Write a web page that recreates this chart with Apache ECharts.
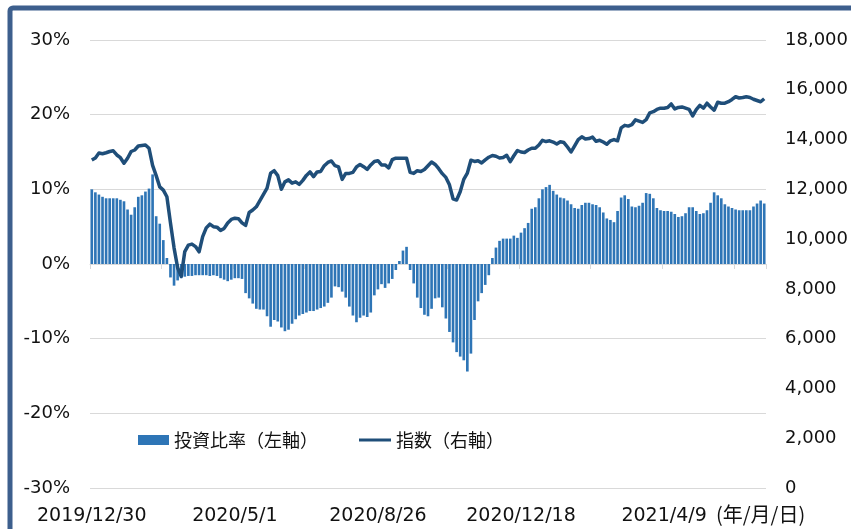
<!DOCTYPE html>
<html>
<head>
<meta charset="utf-8">
<script src="https://cdn.jsdelivr.net/npm/echarts@6/dist/echarts.min.js"></script>
<style>
html,body{margin:0;padding:0;background:#fff;}
#chart{width:851px;height:529px;}
</style>
</head>
<body>
<div id="chart"></div>
<script>
const categories = [
'2019/12/30','2020/1/7','2020/1/9','2020/1/14','2020/1/16','2020/1/20','2020/1/22','2020/1/24','2020/1/28','2020/1/30',
'2020/2/3','2020/2/5','2020/2/7','2020/2/12','2020/2/14','2020/2/18','2020/2/20','2020/2/25','2020/2/27','2020/3/2',
'2020/3/4','2020/3/6','2020/3/10','2020/3/12','2020/3/16','2020/3/18','2020/3/23','2020/3/25','2020/3/27','2020/3/31',
'2020/4/2','2020/4/6','2020/4/8','2020/4/10','2020/4/14','2020/4/16','2020/4/20','2020/4/22','2020/4/24','2020/4/28',
'2020/5/1','2020/5/7','2020/5/11','2020/5/13','2020/5/15','2020/5/18','2020/5/20','2020/5/22','2020/5/26','2020/5/28',
'2020/6/1','2020/6/3','2020/6/5','2020/6/9','2020/6/11','2020/6/15','2020/6/17','2020/6/19','2020/6/23','2020/6/25',
'2020/6/29','2020/7/1','2020/7/3','2020/7/7','2020/7/9','2020/7/13','2020/7/15','2020/7/17','2020/7/21','2020/7/27',
'2020/7/29','2020/7/31','2020/8/4','2020/8/6','2020/8/11','2020/8/13','2020/8/17','2020/8/19','2020/8/21','2020/8/25',
'2020/8/26','2020/8/28','2020/8/31','2020/9/2','2020/9/4','2020/9/8','2020/9/10','2020/9/14','2020/9/16','2020/9/18',
'2020/9/24','2020/9/28','2020/9/30','2020/10/2','2020/10/6','2020/10/8','2020/10/12','2020/10/14','2020/10/16','2020/10/20',
'2020/10/22','2020/10/26','2020/10/28','2020/10/30','2020/11/4','2020/11/6','2020/11/10','2020/11/12','2020/11/16','2020/11/18',
'2020/11/20','2020/11/25','2020/11/27','2020/12/1','2020/12/3','2020/12/7','2020/12/9','2020/12/11','2020/12/15','2020/12/17',
'2020/12/18','2020/12/21','2020/12/23','2020/12/25','2020/12/29','2021/1/4','2021/1/6','2021/1/8','2021/1/13','2021/1/15',
'2021/1/19','2021/1/21','2021/1/25','2021/1/27','2021/1/29','2021/2/2','2021/2/4','2021/2/8','2021/2/10','2021/2/15',
'2021/2/17','2021/2/19','2021/2/24','2021/2/26','2021/3/2','2021/3/4','2021/3/8','2021/3/10','2021/3/12','2021/3/16',
'2021/3/18','2021/3/22','2021/3/24','2021/3/26','2021/3/30','2021/4/1','2021/4/5','2021/4/6','2021/4/7','2021/4/8',
'2021/4/9','2021/4/13','2021/4/15','2021/4/19','2021/4/21','2021/4/23','2021/4/27','2021/4/30','2021/5/6','2021/5/10',
'2021/5/12','2021/5/14','2021/5/18','2021/5/20','2021/5/24','2021/5/26','2021/5/28','2021/6/1','2021/6/3','2021/6/7',
'2021/6/9','2021/6/11','2021/6/15','2021/6/17','2021/6/21','2021/6/23','2021/6/25','2021/6/29','2021/6/30'
];

// 投資比率（%、左軸）
const investRatio = [
10.0, 9.6, 9.3, 9.0, 8.8, 8.8, 8.8, 8.8, 8.6, 8.4,
7.3, 6.6, 7.6, 9.0, 9.2, 9.7, 10.1, 12.0, 6.4, 5.4,
3.2, 0.8, -1.8, -2.9, -2.2, -1.9, -1.7, -1.6, -1.6, -1.5,
-1.5, -1.5, -1.5, -1.6, -1.5, -1.6, -1.9, -2.1, -2.3, -2.1,
-1.9, -1.9, -2.0, -3.9, -4.6, -5.3, -6.0, -6.1, -6.1, -7.0,
-8.4, -7.5, -7.7, -8.5, -9.0, -8.8, -8.0, -7.4, -6.9, -6.7,
-6.5, -6.3, -6.3, -6.1, -5.9, -5.7, -5.2, -4.5, -3.0, -3.1,
-3.7, -4.5, -5.7, -6.9, -7.8, -7.2, -6.9, -7.1, -6.5, -4.2,
-3.4, -2.7, -3.2, -2.6, -2.0, -0.8, 0.4, 1.8, 2.3, -0.8,
-2.6, -4.5, -5.9, -6.8, -7.0, -6.0, -4.6, -4.5, -5.8, -7.3,
-9.1, -10.5, -11.8, -12.4, -12.9, -14.4, -12.0, -7.5, -5.0, -3.9,
-2.8, -1.5, 0.8, 2.2, 3.1, 3.4, 3.4, 3.4, 3.8, 3.5,
4.2, 4.8, 5.5, 7.4, 7.6, 8.8, 10.0, 10.3, 10.6, 9.8,
9.3, 8.9, 8.8, 8.5, 8.0, 7.5, 7.4, 7.9, 8.2, 8.2,
8.0, 7.9, 7.6, 6.9, 6.1, 5.9, 5.6, 7.1, 8.9, 9.2,
8.7, 7.7, 7.6, 7.8, 8.2, 9.5, 9.4, 8.8, 7.5, 7.2,
7.1, 7.1, 7.0, 6.7, 6.3, 6.4, 6.8, 7.6, 7.6, 7.1,
6.7, 6.8, 7.2, 8.2, 9.6, 9.2, 8.8, 8.0, 7.7, 7.5,
7.3, 7.2, 7.2, 7.2, 7.2, 7.7, 8.1, 8.5, 8.1
];

// 指数（右軸）
const indexValues = [
13180, 13260, 13460, 13430, 13470, 13520, 13550, 13380, 13270, 13050,
13250, 13520, 13580, 13740, 13760, 13780, 13650, 12960, 12550, 12100,
11970, 11700, 10650, 9650, 8850, 8500, 9500, 9760, 9800, 9700,
9490, 10100, 10450, 10600, 10500, 10480, 10350, 10430, 10650, 10790,
10840, 10820, 10650, 10550, 11070, 11170, 11300, 11550, 11800, 12050,
12650, 12750, 12550, 12000, 12300, 12380, 12250, 12300, 12200, 12360,
12560, 12700, 12510, 12700, 12720, 12950, 13080, 13140, 12950, 12900,
12400, 12640, 12640, 12680, 12900, 13000, 12910, 12800, 12980, 13120,
13150, 12980, 12980, 12860, 13190, 13250, 13250, 13250, 13250, 12680,
12640, 12750, 12720, 12800, 12950, 13100, 13000, 12830, 12630, 12480,
12180, 11620, 11570, 11900, 12400, 12650, 13170, 13120, 13150, 13060,
13180, 13290, 13360, 13330, 13260, 13280, 13370, 13110, 13350, 13560,
13500, 13480, 13580, 13650, 13650, 13780, 13970, 13920, 13950, 13900,
13820, 13910, 13880, 13700, 13500, 13750, 14000, 14110, 14020, 14040,
14100, 13930, 13970, 13900, 13810, 13950, 14000, 13950, 14470, 14570,
14540, 14600, 14790, 14740, 14690, 14800, 15070, 15120, 15210, 15260,
15260, 15290, 15430, 15230, 15290, 15310, 15260, 15210, 14950, 15200,
15370, 15260, 15460, 15310, 15180, 15500, 15460, 15460, 15520, 15610,
15720, 15670, 15690, 15720, 15690, 15620, 15570, 15520, 15640
];

const seriesNames = ['投資比率（左軸）', '指数（右軸）'];
const dateUnitLabel = '(年/月/日)';

const chart = echarts.init(document.getElementById('chart'), null, {renderer: 'canvas'});
const axisFont = 'DejaVu Sans';
const cjkFont = '"Noto Sans CJK JP", "Noto Sans CJK SC", sans-serif';
const legendText = {fontFamily: cjkFont, fontSize: 18, color: '#111'};

chart.setOption({
  animation: false,
  backgroundColor: '#ffffff',
  grid: {left: 90, right: 85, top: 40, bottom: 41, containLabel: false},
  legend: [
    {
      left: 133, top: 426, itemWidth: 31, itemHeight: 10,
      textStyle: legendText,
      data: [{name: seriesNames[0], icon: 'rect'}]
    },
    {
      left: 354, top: 426, itemWidth: 32, itemHeight: 3,
      textStyle: legendText,
      data: [{name: seriesNames[1], icon: 'rect', itemStyle: {color: '#1f4e79'}}]
    }
  ],
  xAxis: [
    {
      type: 'category', data: categories, position: 'bottom',
      axisLine: {show: false, onZero: false},
      axisTick: {show: false},
      splitLine: {show: false},
      axisLabel: {interval: 39, margin: 19, fontFamily: axisFont, fontSize: 19, color: '#111'}
    },
    {
      type: 'category', data: categories, position: 'bottom',
      axisLine: {show: true, onZero: true, onZeroAxisIndex: 0, lineStyle: {color: '#d9d9d9', width: 1}},
      axisTick: {show: true, interval: 19, length: 5, lineStyle: {color: '#d9d9d9'}},
      axisLabel: {show: false},
      splitLine: {show: false}
    }
  ],
  yAxis: [
    {
      type: 'value', min: -30, max: 30, interval: 10,
      axisLine: {show: false}, axisTick: {show: false},
      splitLine: {show: true, lineStyle: {color: '#d9d9d9', width: 1}},
      axisLabel: {formatter: '{value}%', margin: 20, fontFamily: axisFont, fontSize: 18, color: '#111'}
    },
    {
      type: 'value', min: 0, max: 18000, interval: 2000,
      axisLine: {show: false}, axisTick: {show: false},
      splitLine: {show: false},
      axisLabel: {
        margin: 19, align: 'left', fontFamily: axisFont, fontSize: 18, color: '#111',
        formatter: v => v.toLocaleString('en-US')
      }
    }
  ],
  series: [
    {
      name: seriesNames[0], type: 'bar', xAxisIndex: 0, yAxisIndex: 0,
      data: investRatio, barWidth: '74%',
      itemStyle: {color: '#2e75b6'}, z: 2
    },
    {
      name: seriesNames[1], type: 'line', xAxisIndex: 0, yAxisIndex: 1,
      data: indexValues, symbol: 'none', smooth: false,
      lineStyle: {color: '#1f4e79', width: 3.5, join: 'round'},
      itemStyle: {color: '#1f4e79'}, z: 3
    }
  ],
  graphic: [
    {
      type: 'rect', z: 100, silent: true,
      shape: {x: 10, y: 8, width: 1000, height: 700, r: 3},
      style: {fill: 'none', stroke: '#3d5f8d', lineWidth: 5}
    },
    {
      type: 'text', left: 716, top: 504, z: 100,
      style: {text: dateUnitLabel, font: '20px ' + cjkFont, fill: '#111'}
    }
  ]
});
</script>
</body>
</html>
